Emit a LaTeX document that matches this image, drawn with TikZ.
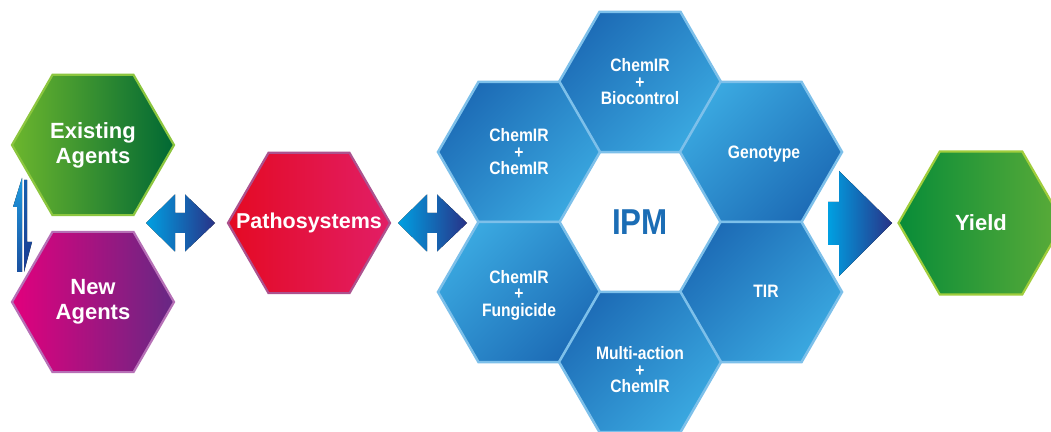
\documentclass[tikz,border=0pt]{standalone}
\usepackage{fontspec}
\setmainfont{Liberation Sans}
\newfontfamily\condfont[FakeStretch=0.87]{Liberation Sans}
\usetikzlibrary{shapes.geometric}
\definecolor{bdark}{RGB}{29,108,182}
\definecolor{blight}{RGB}{58,168,224}
\definecolor{bborder}{RGB}{125,192,234}
\definecolor{ipmblue}{RGB}{27,109,181}
\definecolor{egA}{RGB}{108,182,45}
\definecolor{egB}{RGB}{0,104,52}
\definecolor{egBorder}{RGB}{140,198,63}
\definecolor{naA}{RGB}{226,0,125}
\definecolor{naB}{RGB}{102,40,132}
\definecolor{naBorder}{RGB}{182,112,182}
\definecolor{paA}{RGB}{228,10,35}
\definecolor{paB}{RGB}{226,30,102}
\definecolor{paBorder}{RGB}{172,82,142}
\definecolor{yiA}{RGB}{8,140,56}
\definecolor{yiB}{RGB}{92,172,56}
\definecolor{yiBorder}{RGB}{160,205,60}
\definecolor{arA}{RGB}{0,160,226}
\definecolor{arB}{RGB}{40,50,135}
\definecolor{hpA}{RGB}{30,155,224}
\definecolor{hpB}{RGB}{26,80,160}
\definecolor{hpC}{RGB}{22,95,175}
\definecolor{hpD}{RGB}{28,60,145}
\tikzset{
  hexa/.style={regular polygon, regular polygon sides=6, minimum size=162pt,
    inner sep=0pt, align=center, text=white},
  bigfont/.style={font=\bfseries\fontsize{22}{25}\selectfont},
  bluehex/.style={hexa, draw=bborder, line width=2.5pt,
    font=\condfont\bfseries\fontsize{18}{16.5}\selectfont},
  bluedk/.style={bluehex, top color=bdark, bottom color=blight, shading angle=45},
  bluelt/.style={bluehex, top color=blight, bottom color=bdark, shading angle=45},
  hextext/.style={align=center, text=white, inner sep=0pt,
    font=\condfont\bfseries\fontsize{18}{16.5}\selectfont},
  arrowshade/.style={left color=arA, right color=arB},
  dblarrow/.pic={
    \fill[arrowshade] (0,0) -- (29,28.5) -- (29,10) -- (39,10) -- (39,28.5)
      -- (69,0) -- (39,-28.5) -- (39,-10) -- (29,-10) -- (29,-28.5) -- cycle;
  }
}
\begin{document}
\begin{tikzpicture}[x=1pt,y=1pt]
\useasboundingbox (0,0) rectangle (1051,431);
\fill[white] (0,0) rectangle (1051,431);
\begin{scope}
\clip (0,0) rectangle (1051,431);
% left group
\node[hexa, bigfont, draw=egBorder, line width=2.2pt, left color=egA, right color=egB]
  (exist) at (93,286) {Existing\\Agents};
\node[hexa, bigfont, draw=naBorder, line width=2.2pt, left color=naA, right color=naB]
  (new) at (93,129) {New\\Agents};
% harpoons
\fill[top color=hpA, bottom color=hpB] (22,253) -- (13,224) -- (17,224) -- (17,159) -- (22,159) -- cycle;
\fill[top color=hpC, bottom color=hpD] (24,251) -- (27,251) -- (27,189) -- (32,189) -- (24,159) -- cycle;
% pathosystems
\node[hexa, draw=paBorder, line width=2.2pt,
  left color=paA, right color=paB] (patho) at (309,208) {};
\node[text=white, inner sep=0pt, font=\bfseries\fontsize{21.5}{24}\selectfont] at (patho.center) {Pathosystems};
% double arrows
\pic at (146,208) {dblarrow};
\pic at (398,208) {dblarrow};
% IPM cluster
\node[hexa, text=ipmblue, font=\condfont\bfseries\fontsize{36}{36}\selectfont] (ipm) at (640,209) {IPM};
\node[bluedk] (bio) at (640,349) {ChemIR\\+\\Biocontrol};
\node[bluedk] (cc) at (519,279) {ChemIR\\+\\ChemIR};
\node[bluelt] (geno) at (761,279) {};
\node[hextext] at ([xshift=3pt,yshift=-2pt]geno.center) {Genotype};
\node[bluelt] (fung) at (519,139) {};
\node[hextext] at ([yshift=-3pt]fung.center) {ChemIR\\+\\Fungicide};
\node[bluedk] (tir) at (761,139) {};
\node[hextext] at ([xshift=5pt,yshift=1pt]tir.center) {TIR};
\node[bluedk] (multi) at (640,69) {};
\node[hextext] at ([yshift=-8pt]multi.center) {Multi-action\\+\\ChemIR};
% right arrow
\fill[arrowshade] (828,229) -- (839,229) -- (839,260) -- (892,208) -- (839,155) -- (839,186) -- (828,186) -- cycle;
% yield
\node[hexa, minimum size=165pt, font=\bfseries\fontsize{22}{25}\selectfont, draw=yiBorder, line width=2.2pt,
  left color=yiA, right color=yiB] (yield) at (981,208) {Yield};
\end{scope}
\end{tikzpicture}
\end{document}
